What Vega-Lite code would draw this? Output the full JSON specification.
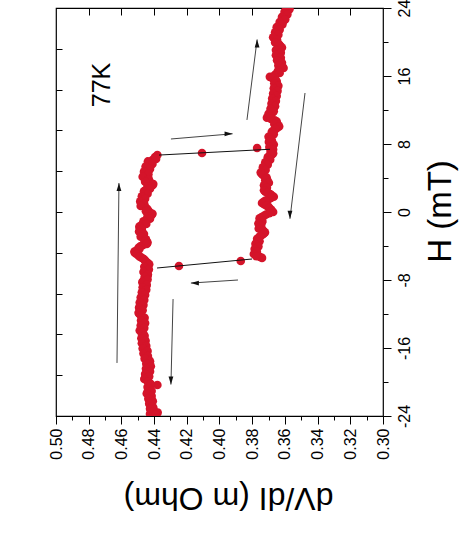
{
  "$schema": "https://vega.github.io/schema/vega-lite/v6.json",
  "width": 327,
  "height": 408,
  "autosize": {"type": "none"},
  "padding": {"left": 56, "top": 8, "right": 76, "bottom": 140},
  "background": "white",
  "config": {
    "font": "Liberation Sans",
    "view": {"stroke": "#000", "strokeWidth": 1.2},
    "axis": {"grid": false, "domain": false, "tickColor": "#000", "tickWidth": 1, "labelColor": "#000", "titleColor": "#000", "labelFont": "Liberation Sans", "titleFont": "Liberation Sans", "titleFontWeight": "normal", "labelFlush": false, "labelOverlap": false}
  },
  "datasets": {
    "pts": [
      {"H": 6.70, "R": 0.4380}, {"H": 6.45, "R": 0.4395}, {"H": 6.10, "R": 0.4410}, {"H": 5.80, "R": 0.4428}, {"H": 5.50, "R": 0.4420}, {"H": 5.20, "R": 0.4440}, {"H": 4.90, "R": 0.4432}, {"H": 4.60, "R": 0.4448}, {"H": 4.30, "R": 0.4445}, {"H": 4.00, "R": 0.4458}, {"H": 3.70, "R": 0.4440}, {"H": 3.40, "R": 0.4420}, {"H": 3.15, "R": 0.4410}, {"H": 2.90, "R": 0.4428}, {"H": 2.60, "R": 0.4440}, {"H": 2.30, "R": 0.4450}, {"H": 2.00, "R": 0.4458}, {"H": 1.70, "R": 0.4470}, {"H": 1.40, "R": 0.4462}, {"H": 1.10, "R": 0.4478}, {"H": 0.85, "R": 0.4470}, {"H": 0.55, "R": 0.4455}, {"H": 0.25, "R": 0.4438}, {"H": -0.05, "R": 0.4425}, {"H": -0.35, "R": 0.4415}, {"H": -0.65, "R": 0.4432}, {"H": -0.95, "R": 0.4448}, {"H": -1.25, "R": 0.4460}, {"H": -1.55, "R": 0.4478}, {"H": -1.85, "R": 0.4488}, {"H": -2.15, "R": 0.4480}, {"H": -2.45, "R": 0.4470}, {"H": -2.75, "R": 0.4475}, {"H": -3.05, "R": 0.4462}, {"H": -3.35, "R": 0.4448}, {"H": -3.60, "R": 0.4440}, {"H": -3.90, "R": 0.4470}, {"H": -4.20, "R": 0.4495}, {"H": -4.50, "R": 0.4505}, {"H": -4.80, "R": 0.4518}, {"H": -5.10, "R": 0.4495}, {"H": -5.40, "R": 0.4475}, {"H": -5.70, "R": 0.4455}, {"H": -6.00, "R": 0.4438}, {"H": -6.30, "R": 0.4448}, {"H": -6.60, "R": 0.4442}, {"H": -6.90, "R": 0.4458}, {"H": -7.20, "R": 0.4450}, {"H": -7.50, "R": 0.4440}, {"H": -7.80, "R": 0.4452}, {"H": -8.10, "R": 0.4465}, {"H": -8.40, "R": 0.4458}, {"H": -8.70, "R": 0.4448}, {"H": -9.00, "R": 0.4462}, {"H": -9.30, "R": 0.4455}, {"H": -9.60, "R": 0.4470}, {"H": -9.90, "R": 0.4462}, {"H": -10.20, "R": 0.4475}, {"H": -10.50, "R": 0.4468}, {"H": -10.80, "R": 0.4480}, {"H": -11.10, "R": 0.4472}, {"H": -11.40, "R": 0.4485}, {"H": -11.70, "R": 0.4478}, {"H": -12.00, "R": 0.4490}, {"H": -12.30, "R": 0.4475}, {"H": -12.60, "R": 0.4465}, {"H": -12.90, "R": 0.4472}, {"H": -13.20, "R": 0.4460}, {"H": -13.50, "R": 0.4475}, {"H": -13.80, "R": 0.4468}, {"H": -14.10, "R": 0.4480}, {"H": -14.40, "R": 0.4465}, {"H": -14.70, "R": 0.4472}, {"H": -15.00, "R": 0.4460}, {"H": -15.30, "R": 0.4470}, {"H": -15.60, "R": 0.4455}, {"H": -15.90, "R": 0.4462}, {"H": -16.20, "R": 0.4448}, {"H": -16.50, "R": 0.4458}, {"H": -16.80, "R": 0.4445}, {"H": -17.10, "R": 0.4450}, {"H": -17.40, "R": 0.4432}, {"H": -17.70, "R": 0.4440}, {"H": -18.00, "R": 0.4428}, {"H": -18.30, "R": 0.4442}, {"H": -18.60, "R": 0.4432}, {"H": -18.90, "R": 0.4448}, {"H": -19.20, "R": 0.4438}, {"H": -19.50, "R": 0.4455}, {"H": -19.80, "R": 0.4445}, {"H": -20.10, "R": 0.4430}, {"H": -20.35, "R": 0.4380}, {"H": -20.60, "R": 0.4440}, {"H": -20.90, "R": 0.4425}, {"H": -21.20, "R": 0.4440}, {"H": -21.50, "R": 0.4428}, {"H": -21.80, "R": 0.4420}, {"H": -22.10, "R": 0.4432}, {"H": -22.40, "R": 0.4415}, {"H": -22.70, "R": 0.4422}, {"H": -23.00, "R": 0.4405}, {"H": -23.30, "R": 0.4412}, {"H": -23.60, "R": 0.4378}, {"H": -23.75, "R": 0.4425}, {"H": -23.90, "R": 0.4405},
      {"H": 6.25, "R": 0.4388}, {"H": 5.95, "R": 0.4438}, {"H": 5.65, "R": 0.4410}, {"H": 5.35, "R": 0.4452}, {"H": 5.05, "R": 0.4425}, {"H": 4.75, "R": 0.4462}, {"H": 4.45, "R": 0.4435}, {"H": 4.15, "R": 0.4470}, {"H": 3.85, "R": 0.4432}, {"H": 3.55, "R": 0.4455}, {"H": 3.28, "R": 0.4405}, {"H": 3.02, "R": 0.4440}, {"H": 2.75, "R": 0.4425}, {"H": 2.45, "R": 0.4462}, {"H": 2.15, "R": 0.4440}, {"H": 1.85, "R": 0.4475}, {"H": 1.55, "R": 0.4455}, {"H": 1.25, "R": 0.4485}, {"H": 0.95, "R": 0.4460}, {"H": 0.70, "R": 0.4482}, {"H": 0.40, "R": 0.4445}, {"H": 0.10, "R": 0.4450}, {"H": -0.20, "R": 0.4410}, {"H": -0.50, "R": 0.4440}, {"H": -0.80, "R": 0.4425}, {"H": -1.10, "R": 0.4465}, {"H": -1.40, "R": 0.4448}, {"H": -1.70, "R": 0.4490}, {"H": -2.00, "R": 0.4475}, {"H": -2.30, "R": 0.4492}, {"H": -2.60, "R": 0.4462}, {"H": -2.90, "R": 0.4482}, {"H": -3.20, "R": 0.4450}, {"H": -3.50, "R": 0.4458}, {"H": -3.75, "R": 0.4445}, {"H": -4.05, "R": 0.4485}, {"H": -4.35, "R": 0.4490}, {"H": -4.65, "R": 0.4520}, {"H": -4.95, "R": 0.4508}, {"H": -5.25, "R": 0.4488}, {"H": -5.55, "R": 0.4462}, {"H": -5.85, "R": 0.4448}, {"H": -6.15, "R": 0.4430}, {"H": -6.45, "R": 0.4460}, {"H": -6.75, "R": 0.4432}, {"H": -7.05, "R": 0.4465}, {"H": -7.35, "R": 0.4438}, {"H": -7.65, "R": 0.4458}, {"H": -7.95, "R": 0.4440}, {"H": -8.25, "R": 0.4472}, {"H": -8.55, "R": 0.4445}, {"H": -8.85, "R": 0.4470}, {"H": -9.15, "R": 0.4448}, {"H": -9.45, "R": 0.4475}, {"H": -9.75, "R": 0.4455}, {"H": -10.05, "R": 0.4482}, {"H": -10.35, "R": 0.4460}, {"H": -10.65, "R": 0.4488}, {"H": -10.95, "R": 0.4465}, {"H": -11.25, "R": 0.4492}, {"H": -11.55, "R": 0.4470}, {"H": -11.85, "R": 0.4495}, {"H": -12.15, "R": 0.4480}, {"H": -12.45, "R": 0.4458}, {"H": -12.75, "R": 0.4480}, {"H": -13.05, "R": 0.4455}, {"H": -13.35, "R": 0.4482}, {"H": -13.65, "R": 0.4460}, {"H": -13.95, "R": 0.4488}, {"H": -14.25, "R": 0.4472}, {"H": -14.55, "R": 0.4458}, {"H": -14.85, "R": 0.4478}, {"H": -15.15, "R": 0.4452}, {"H": -15.45, "R": 0.4475}, {"H": -15.75, "R": 0.4448}, {"H": -16.05, "R": 0.4470}, {"H": -16.35, "R": 0.4440}, {"H": -16.65, "R": 0.4465}, {"H": -16.95, "R": 0.4438}, {"H": -17.25, "R": 0.4458}, {"H": -17.55, "R": 0.4425}, {"H": -17.85, "R": 0.4448}, {"H": -18.15, "R": 0.4420}, {"H": -18.45, "R": 0.4450}, {"H": -18.75, "R": 0.4425}, {"H": -19.05, "R": 0.4455}, {"H": -19.35, "R": 0.4430}, {"H": -19.65, "R": 0.4460}, {"H": -19.95, "R": 0.4438}, {"H": -20.25, "R": 0.4420}, {"H": -20.75, "R": 0.4432}, {"H": -21.05, "R": 0.4415}, {"H": -21.35, "R": 0.4445}, {"H": -21.65, "R": 0.4415}, {"H": -21.95, "R": 0.4435}, {"H": -22.25, "R": 0.4408}, {"H": -22.55, "R": 0.4430}, {"H": -22.85, "R": 0.4412}, {"H": -23.15, "R": 0.4425}, {"H": -23.45, "R": 0.4400}, {"H": -23.85, "R": 0.4390},
      {"H": 6.94, "R": 0.4107}, {"H": 7.53, "R": 0.3770},
      {"H": 24.00, "R": 0.3590}, {"H": 23.70, "R": 0.3580}, {"H": 23.40, "R": 0.3595}, {"H": 23.10, "R": 0.3600}, {"H": 22.80, "R": 0.3612}, {"H": 22.50, "R": 0.3608}, {"H": 22.20, "R": 0.3625}, {"H": 21.90, "R": 0.3638}, {"H": 21.60, "R": 0.3645}, {"H": 21.30, "R": 0.3640}, {"H": 21.00, "R": 0.3652}, {"H": 20.70, "R": 0.3648}, {"H": 20.40, "R": 0.3662}, {"H": 20.10, "R": 0.3655}, {"H": 19.80, "R": 0.3640}, {"H": 19.50, "R": 0.3628}, {"H": 19.20, "R": 0.3645}, {"H": 18.90, "R": 0.3635}, {"H": 18.60, "R": 0.3648}, {"H": 18.30, "R": 0.3632}, {"H": 18.00, "R": 0.3640}, {"H": 17.70, "R": 0.3625}, {"H": 17.40, "R": 0.3635}, {"H": 17.10, "R": 0.3615}, {"H": 16.80, "R": 0.3630}, {"H": 16.50, "R": 0.3645}, {"H": 16.20, "R": 0.3655}, {"H": 15.90, "R": 0.3692}, {"H": 15.60, "R": 0.3662}, {"H": 15.30, "R": 0.3650}, {"H": 15.00, "R": 0.3658}, {"H": 14.70, "R": 0.3645}, {"H": 14.40, "R": 0.3660}, {"H": 14.10, "R": 0.3652}, {"H": 13.80, "R": 0.3665}, {"H": 13.50, "R": 0.3658}, {"H": 13.20, "R": 0.3670}, {"H": 12.90, "R": 0.3662}, {"H": 12.60, "R": 0.3675}, {"H": 12.30, "R": 0.3668}, {"H": 12.00, "R": 0.3680}, {"H": 11.70, "R": 0.3675}, {"H": 11.40, "R": 0.3695}, {"H": 11.10, "R": 0.3710}, {"H": 10.80, "R": 0.3662}, {"H": 10.50, "R": 0.3655}, {"H": 10.20, "R": 0.3640}, {"H": 9.90, "R": 0.3648}, {"H": 9.60, "R": 0.3665}, {"H": 9.30, "R": 0.3675}, {"H": 9.00, "R": 0.3685}, {"H": 8.70, "R": 0.3692}, {"H": 8.40, "R": 0.3680}, {"H": 8.10, "R": 0.3688}, {"H": 7.80, "R": 0.3675}, {"H": 7.50, "R": 0.3690}, {"H": 7.20, "R": 0.3680}, {"H": 6.90, "R": 0.3672}, {"H": 6.60, "R": 0.3690}, {"H": 6.30, "R": 0.3698}, {"H": 6.00, "R": 0.3705}, {"H": 5.70, "R": 0.3712}, {"H": 5.40, "R": 0.3722}, {"H": 5.10, "R": 0.3728}, {"H": 4.80, "R": 0.3735}, {"H": 4.50, "R": 0.3742}, {"H": 4.20, "R": 0.3725}, {"H": 3.90, "R": 0.3712}, {"H": 3.60, "R": 0.3705}, {"H": 3.30, "R": 0.3718}, {"H": 3.00, "R": 0.3722}, {"H": 2.70, "R": 0.3715}, {"H": 2.40, "R": 0.3720}, {"H": 2.10, "R": 0.3690}, {"H": 1.80, "R": 0.3668}, {"H": 1.50, "R": 0.3700}, {"H": 1.20, "R": 0.3730}, {"H": 0.90, "R": 0.3725}, {"H": 0.60, "R": 0.3700}, {"H": 0.30, "R": 0.3685}, {"H": 0.00, "R": 0.3672}, {"H": -0.30, "R": 0.3715}, {"H": -0.60, "R": 0.3742}, {"H": -0.90, "R": 0.3748}, {"H": -1.20, "R": 0.3740}, {"H": -1.50, "R": 0.3755}, {"H": -1.80, "R": 0.3752}, {"H": -2.10, "R": 0.3738}, {"H": -2.40, "R": 0.3722}, {"H": -2.70, "R": 0.3740}, {"H": -3.00, "R": 0.3758}, {"H": -3.30, "R": 0.3765}, {"H": -3.60, "R": 0.3762}, {"H": -3.90, "R": 0.3772}, {"H": -4.20, "R": 0.3770}, {"H": -4.50, "R": 0.3780}, {"H": -4.80, "R": 0.3782}, {"H": -5.10, "R": 0.3765}, {"H": -5.30, "R": 0.3752}, {"H": -5.40, "R": 0.3740},
      {"H": 23.85, "R": 0.3572}, {"H": 23.55, "R": 0.3602}, {"H": 23.25, "R": 0.3585}, {"H": 22.95, "R": 0.3618}, {"H": 22.65, "R": 0.3598}, {"H": 22.35, "R": 0.3632}, {"H": 22.05, "R": 0.3615}, {"H": 21.75, "R": 0.3650}, {"H": 21.45, "R": 0.3632}, {"H": 21.15, "R": 0.3660}, {"H": 20.85, "R": 0.3640}, {"H": 20.55, "R": 0.3672}, {"H": 20.25, "R": 0.3648}, {"H": 19.95, "R": 0.3660}, {"H": 19.65, "R": 0.3632}, {"H": 19.35, "R": 0.3618}, {"H": 19.05, "R": 0.3655}, {"H": 18.75, "R": 0.3625}, {"H": 18.45, "R": 0.3655}, {"H": 18.15, "R": 0.3625}, {"H": 17.85, "R": 0.3648}, {"H": 17.55, "R": 0.3618}, {"H": 17.25, "R": 0.3640}, {"H": 16.95, "R": 0.3608}, {"H": 16.65, "R": 0.3640}, {"H": 16.35, "R": 0.3632}, {"H": 16.05, "R": 0.3665}, {"H": 15.75, "R": 0.3675}, {"H": 15.45, "R": 0.3652}, {"H": 15.15, "R": 0.3665}, {"H": 14.85, "R": 0.3640}, {"H": 14.55, "R": 0.3668}, {"H": 14.25, "R": 0.3645}, {"H": 13.95, "R": 0.3672}, {"H": 13.65, "R": 0.3650}, {"H": 13.35, "R": 0.3678}, {"H": 13.05, "R": 0.3655}, {"H": 12.75, "R": 0.3682}, {"H": 12.45, "R": 0.3660}, {"H": 12.15, "R": 0.3688}, {"H": 11.85, "R": 0.3668}, {"H": 11.55, "R": 0.3700}, {"H": 11.25, "R": 0.3690}, {"H": 10.95, "R": 0.3685}, {"H": 10.65, "R": 0.3650}, {"H": 10.35, "R": 0.3665}, {"H": 10.05, "R": 0.3635}, {"H": 9.75, "R": 0.3660}, {"H": 9.45, "R": 0.3680}, {"H": 9.15, "R": 0.3668}, {"H": 8.85, "R": 0.3700}, {"H": 8.55, "R": 0.3685}, {"H": 8.25, "R": 0.3698}, {"H": 7.95, "R": 0.3668}, {"H": 7.65, "R": 0.3695}, {"H": 7.35, "R": 0.3672}, {"H": 7.05, "R": 0.3688}, {"H": 6.75, "R": 0.3680}, {"H": 6.45, "R": 0.3705}, {"H": 6.15, "R": 0.3690}, {"H": 5.85, "R": 0.3720}, {"H": 5.55, "R": 0.3705}, {"H": 5.25, "R": 0.3735}, {"H": 4.95, "R": 0.3718}, {"H": 4.65, "R": 0.3748}, {"H": 4.35, "R": 0.3735}, {"H": 4.05, "R": 0.3712}, {"H": 3.75, "R": 0.3720}, {"H": 3.45, "R": 0.3698}, {"H": 3.15, "R": 0.3728}, {"H": 2.85, "R": 0.3710}, {"H": 2.55, "R": 0.3728}, {"H": 2.25, "R": 0.3705}, {"H": 1.95, "R": 0.3680}, {"H": 1.65, "R": 0.3685}, {"H": 1.35, "R": 0.3718}, {"H": 1.05, "R": 0.3740}, {"H": 0.75, "R": 0.3712}, {"H": 0.45, "R": 0.3695}, {"H": 0.15, "R": 0.3680}, {"H": -0.15, "R": 0.3695}, {"H": -0.45, "R": 0.3728}, {"H": -0.75, "R": 0.3755}, {"H": -1.05, "R": 0.3738}, {"H": -1.35, "R": 0.3762}, {"H": -1.65, "R": 0.3745}, {"H": -1.95, "R": 0.3760}, {"H": -2.25, "R": 0.3730}, {"H": -2.55, "R": 0.3730}, {"H": -2.85, "R": 0.3752}, {"H": -3.15, "R": 0.3770}, {"H": -3.45, "R": 0.3755}, {"H": -3.75, "R": 0.3780}, {"H": -4.05, "R": 0.3762}, {"H": -4.35, "R": 0.3785}, {"H": -4.65, "R": 0.3772}, {"H": -4.95, "R": 0.3790}, {"H": -5.20, "R": 0.3775},
      {"H": -5.76, "R": 0.3870}, {"H": -6.35, "R": 0.4248}
    ],
    "trans": [
      {"s": "up", "o": 1, "H": 6.70, "R": 0.4370},
      {"s": "up", "o": 2, "H": 7.38, "R": 0.3691},
      {"s": "down", "o": 1, "H": -5.53, "R": 0.3801},
      {"s": "down", "o": 2, "H": -6.59, "R": 0.4382}
    ],
    "arrows": [
      {"R": 0.4627, "H": -17.76, "R2": 0.4615, "H2": 3.4, "dir": "up"},
      {"R": 0.4297, "H": 8.59, "R2": 0.3920, "H2": 9.20, "dir": "right"},
      {"R": 0.3832, "H": 10.83, "R2": 0.3770, "H2": 20.3, "dir": "up"},
      {"R": 0.3477, "H": 14.0, "R2": 0.3569, "H2": -0.8, "dir": "down"},
      {"R": 0.3887, "H": -8.0, "R2": 0.4175, "H2": -8.36, "dir": "left"},
      {"R": 0.4284, "H": -10.24, "R2": 0.4297, "H2": -20.3, "dir": "down"}
    ],
    "label": [{"t": "77K", "R": 0.4716, "H": 14.94}]
  },
  "layer": [
    {
      "data": {"name": "pts"},
      "mark": {"type": "circle", "color": "#d4142a", "size": 74, "opacity": 1, "clip": true},
      "encoding": {
        "x": {"field": "R", "type": "quantitative", "scale": {"domain": [0.3, 0.5], "reverse": true, "nice": false, "zero": false},
          "axis": {"orient": "bottom", "values": [0.30, 0.32, 0.34, 0.36, 0.38, 0.40, 0.42, 0.44, 0.46, 0.48, 0.50], "format": ".2f", "tickSize": 8, "labelAngle": 270, "labelAlign": "right", "labelBaseline": "middle", "labelPadding": 4, "labelFontSize": 16,
            "title": "dV/dI (m Ohm)", "titleFontSize": 32, "titleAngle": 180, "titleAlign": "center", "titleBaseline": "middle", "titleX": 172, "titleY": 81}},
        "y": {"field": "H", "type": "quantitative", "scale": {"domain": [-24, 24], "nice": false, "zero": false},
          "axis": {"orient": "right", "values": [-24, -16, -8, 0, 8, 16, 24], "labelExpr": "'' + datum.value", "tickSize": 8, "labelAngle": 270, "labelAlign": "center", "labelBaseline": "top", "labelPadding": 5, "labelFontSize": 16,
            "title": "H (mT)", "titleFontSize": 33, "titleAngle": 270, "titleAlign": "center", "titleBaseline": "middle", "titleX": 57, "titleY": 203}}
      }
    },
    {
      "data": {"name": "trans"},
      "mark": {"type": "line", "color": "#111", "strokeWidth": 1},
      "encoding": {
        "x": {"field": "R", "type": "quantitative", "scale": {"domain": [0.3, 0.5], "reverse": true, "nice": false, "zero": false},
          "axis": {"orient": "bottom", "values": [0.31, 0.33, 0.35, 0.37, 0.39, 0.41, 0.43, 0.45, 0.47, 0.49], "tickSize": 4, "labels": false, "title": null}},
        "y": {"field": "H", "type": "quantitative", "scale": {"domain": [-24, 24], "nice": false, "zero": false},
          "axis": {"orient": "right", "values": [-20, -12, -4, 4, 12, 20], "tickSize": 5, "labels": false, "title": null}},
        "detail": {"field": "s"},
        "order": {"field": "o"}
      }
    },
    {
      "data": {"name": "arrows"},
      "mark": {"type": "rule", "color": "#444", "strokeWidth": 1},
      "encoding": {
        "x": {"field": "R", "type": "quantitative", "scale": {"domain": [0.3, 0.5], "reverse": true, "nice": false, "zero": false},
          "axis": {"orient": "top", "values": [0.32, 0.34, 0.36, 0.38, 0.40, 0.42, 0.44, 0.46, 0.48], "tickSize": -7, "labels": false, "title": null}},
        "x2": {"field": "R2"},
        "y": {"field": "H", "type": "quantitative", "scale": {"domain": [-24, 24], "nice": false, "zero": false},
          "axis": {"orient": "left", "values": [-19.2, -14.4, -9.6, -4.8, 0, 4.8, 9.6, 14.4, 19.2], "tickSize": -6, "labels": false, "title": null}},
        "y2": {"field": "H2"}
      }
    },
    {
      "data": {"name": "arrows"},
      "mark": {"type": "point", "filled": true, "color": "#111", "size": 64, "opacity": 1, "strokeWidth": 0},
      "encoding": {
        "x": {"field": "R2", "type": "quantitative", "scale": {"domain": [0.3, 0.5], "reverse": true, "nice": false, "zero": false}, "axis": null},
        "y": {"field": "H2", "type": "quantitative", "scale": {"domain": [-24, 24], "nice": false, "zero": false}, "axis": null},
        "shape": {"field": "dir", "type": "nominal", "legend": null,
          "scale": {"domain": ["up", "down", "left", "right"], "range": ["M0,0L0.6,2L-0.6,2Z", "M0,0L0.6,-2L-0.6,-2Z", "M0,0L2,0.6L2,-0.6Z", "M0,0L-2,0.6L-2,-0.6Z"]}}
      }
    },
    {
      "data": {"name": "label"},
      "mark": {"type": "text", "fontSize": 25, "angle": 270, "align": "center", "baseline": "middle", "color": "#000", "font": "Liberation Sans"},
      "encoding": {
        "x": {"field": "R", "type": "quantitative", "scale": {"domain": [0.3, 0.5], "reverse": true, "nice": false, "zero": false}, "axis": null},
        "y": {"field": "H", "type": "quantitative", "scale": {"domain": [-24, 24], "nice": false, "zero": false}, "axis": null},
        "text": {"field": "t"}
      }
    }
  ],
  "resolve": {"axis": {"x": "independent", "y": "independent"}}
}
